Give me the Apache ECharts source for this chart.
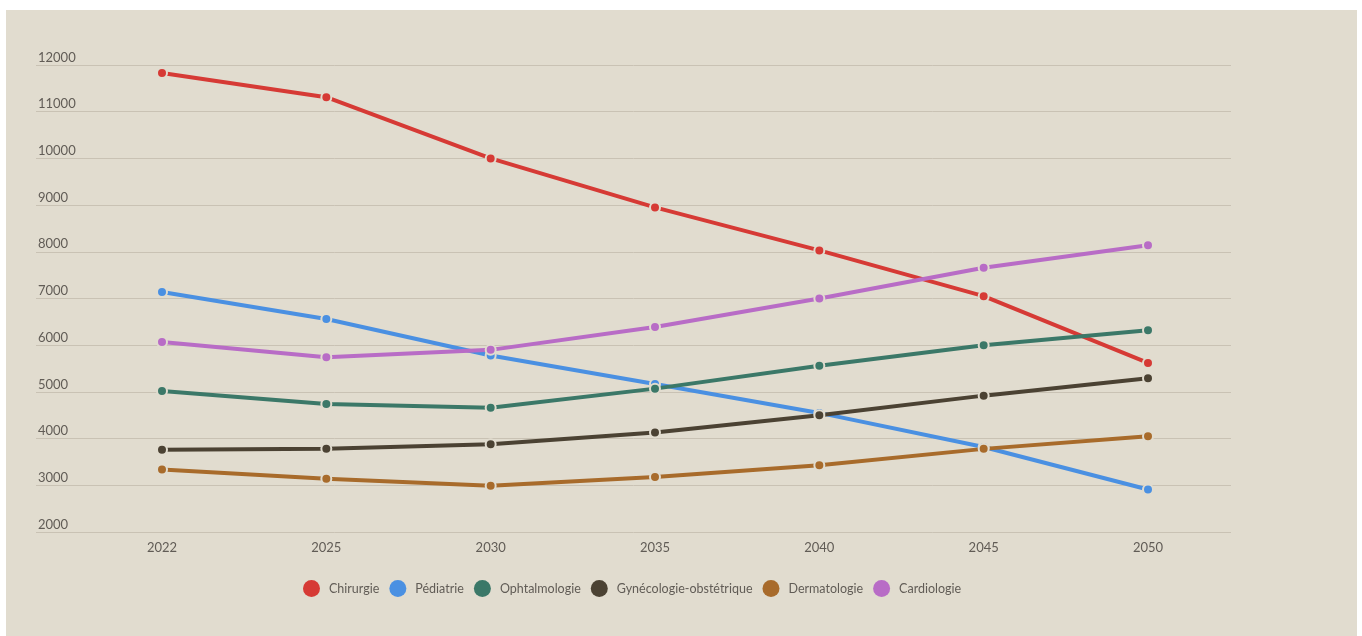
<!DOCTYPE html>
<html>
<head>
<meta charset="utf-8">
<script src="https://cdn.jsdelivr.net/npm/echarts@6/dist/echarts.min.js"></script>
<style>
  html, body { margin: 0; padding: 0; background: #ffffff; }
  #panel { position: absolute; left: 6px; top: 10px; width: 1351px; height: 626px; background: #e1dccf; }
  #chart { position: absolute; left: 0; top: 0; width: 1362px; height: 636px; }
</style>
</head>
<body>
<div id="panel"></div>
<div id="chart"></div>
<script>
// Years shown on the horizontal axis
const years = ['2022', '2025', '2030', '2035', '2040', '2045', '2050'];

// Projected number of practitioners per specialty
const chirurgie      = [11830, 11310, 10000, 8950, 8030, 7050, 5620];
const pediatrie      = [7140, 6560, 5780, 5170, 4550, 3820, 2910];
const ophtalmologie  = [5020, 4740, 4660, 5070, 5560, 6000, 6320];
const gynecologie    = [3760, 3780, 3880, 4130, 4500, 4920, 5290];
const dermatologie   = [3340, 3140, 2990, 3180, 3430, 3780, 4050];
const cardiologie    = [6070, 5740, 5900, 6390, 7000, 7660, 8140];

const seriesNames  = ['Chirurgie', 'Pédiatrie', 'Ophtalmologie', 'Gynécologie-obstétrique', 'Dermatologie', 'Cardiologie'];
const seriesData   = [chirurgie, pediatrie, ophtalmologie, gynecologie, dermatologie, cardiologie];
const seriesColors = ['#d63a35', '#4a90e2', '#3b7868', '#4b4233', '#a86b2b', '#b86cc6'];

const BG = '#e1dccf';
const FONT = 'Lato, "Open Sans", sans-serif';
const TEXT = '#615c56';

const chart = echarts.init(document.getElementById('chart'), null, { renderer: 'canvas' });

chart.setOption({
  backgroundColor: 'transparent',
  animation: false,
  textStyle: { fontFamily: FONT },
  grid: [
    // full-width grid carrying the value axis and its split lines
    { left: 36, right: 131, top: 65, bottom: 104 },
    // inner grid where the year positions live
    { left: 162, right: 214, top: 65, bottom: 104 }
  ],
  xAxis: [
    { type: 'category', gridIndex: 0, data: years, show: false },
    {
      type: 'category', gridIndex: 1, data: years, boundaryGap: false,
      axisLine: { show: false }, axisTick: { show: false }, splitLine: { show: false },
      axisLabel: { color: TEXT, fontSize: 13, margin: 9, fontFamily: FONT }
    }
  ],
  yAxis: [
    {
      type: 'value', gridIndex: 0, min: 2000, max: 12000, interval: 1000,
      axisLine: { show: false }, axisTick: { show: false },
      splitLine: { show: true, lineStyle: { color: '#c9c2b4', width: 1 } },
      axisLabel: {
        inside: true, margin: 2, align: 'left', verticalAlign: 'bottom',
        padding: [0, 0, 1, 0], color: TEXT, fontSize: 13, fontFamily: FONT,
        formatter: v => String(v)
      }
    },
    { type: 'value', gridIndex: 1, min: 2000, max: 12000, interval: 1000, show: false, splitLine: { show: false } }
  ],
  legend: {
    left: 298, top: 575,
    icon: 'circle', itemWidth: 17, itemHeight: 17, itemGap: 10,
    itemStyle: { borderWidth: 0 },
    textStyle: { color: TEXT, fontSize: 12.5, fontFamily: FONT, padding: [0, 0, 0, 4] },
    data: seriesNames
  },
  series: seriesNames.map((name, i) => ({
    name: name,
    type: 'line',
    xAxisIndex: 1, yAxisIndex: 1,
    data: seriesData[i],
    color: seriesColors[i],
    symbol: 'circle', symbolSize: 10, showSymbol: true,
    lineStyle: { width: 4, color: seriesColors[i] },
    itemStyle: { color: seriesColors[i], borderColor: BG, borderWidth: 2 },
    emphasis: { disabled: true }
  }))
});
</script>
</body>
</html>
